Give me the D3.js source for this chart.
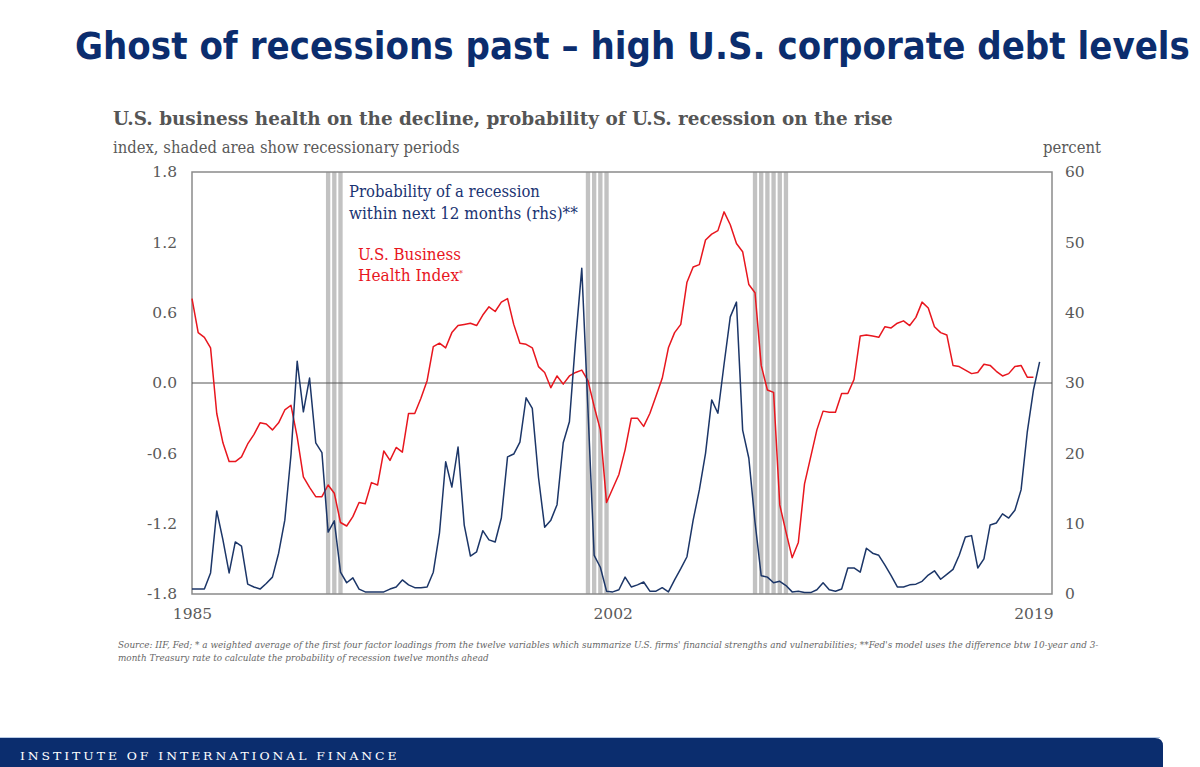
<!DOCTYPE html>
<html>
<head>
<meta charset="utf-8">
<script src="https://cdn.jsdelivr.net/npm/d3@7"></script>
<style>
  body { margin: 0; background: #fff; }
  svg { display: block; }
</style>
</head>
<body>
<svg id="chart"></svg>
<script>
// quarterly categories, 1985Q1 .. 2019Q4
const startYear = 1985, endYear = 2019;
const quarters = [];
for (let y = startYear; y <= endYear; y++)
  for (let q = 1; q <= 4; q++) quarters.push(y + 'Q' + q);

const xTicks = ['1985Q1', '2002Q1', '2019Q1'];
const leftTicks = [-1.8, -1.2, -0.6, 0, 0.6, 1.2, 1.8];
const rightTicks = [0, 10, 20, 30, 40, 50, 60];

// NBER recession quarters (shaded columns)
const recessionQuarters = [
  '1990Q3', '1990Q4', '1991Q1',
  '2001Q1', '2001Q2', '2001Q3', '2001Q4',
  '2007Q4', '2008Q1', '2008Q2', '2008Q3', '2008Q4', '2009Q1'
];

// U.S. Business Health Index (lhs), from 1985Q1
const healthIndex = [
  0.72, 0.43, 0.39, 0.30, -0.26, -0.51, -0.67, -0.67, -0.63, -0.52,
  -0.44, -0.34, -0.35, -0.40, -0.34, -0.23, -0.19, -0.46, -0.80, -0.89,
  -0.97, -0.97, -0.87, -0.94, -1.19, -1.22, -1.14, -1.02, -1.03, -0.85,
  -0.87, -0.58, -0.66, -0.55, -0.59, -0.26, -0.26, -0.13, 0.02, 0.31,
  0.34, 0.30, 0.43, 0.49, 0.50, 0.51, 0.49, 0.58, 0.65, 0.61,
  0.69, 0.72, 0.50, 0.34, 0.33, 0.30, 0.14, 0.09, -0.04, 0.06,
  -0.01, 0.06, 0.09, 0.11, 0.02, -0.20, -0.40, -1.02, -0.90, -0.78,
  -0.57, -0.30, -0.30, -0.37, -0.26, -0.11, 0.04, 0.30, 0.43, 0.50,
  0.86, 0.99, 1.01, 1.22, 1.27, 1.30, 1.46, 1.35, 1.19, 1.12,
  0.84, 0.77, 0.15, -0.06, -0.08, -1.04, -1.27, -1.49, -1.36, -0.86,
  -0.63, -0.40, -0.24, -0.25, -0.25, -0.09, -0.09, 0.03, 0.40, 0.41,
  0.40, 0.39, 0.48, 0.47, 0.51, 0.53, 0.49, 0.56, 0.69, 0.64,
  0.48, 0.43, 0.41, 0.15, 0.14, 0.11, 0.08, 0.09, 0.16, 0.15,
  0.10, 0.06, 0.08, 0.14, 0.15, 0.05, 0.05
];

// probability of a recession within next 12 months, percent (rhs), from 1985Q1
const recessionProb = [
  0.7, 0.7, 0.7, 3.0, 11.8, 7.7, 3.0, 7.4, 6.8, 1.4,
  1.0, 0.7, 1.5, 2.4, 5.8, 10.5, 19.8, 33.1, 25.9, 30.7,
  21.5, 20.1, 8.8, 10.4, 3.1, 1.6, 2.3, 0.7, 0.3, 0.3,
  0.3, 0.3, 0.7, 1.0, 2.0, 1.3, 0.9, 0.9, 1.0, 3.1,
  8.7, 18.8, 15.2, 20.9, 9.8, 5.4, 6.0, 9.0, 7.7, 7.4,
  10.8, 19.5, 19.9, 21.6, 27.9, 26.4, 16.6, 9.5, 10.5, 12.7,
  21.5, 24.5, 36.1, 46.3, 26.2, 5.5, 3.8, 0.4, 0.3, 0.6,
  2.4, 1.0, 1.3, 1.7, 0.4, 0.4, 0.9, 0.3, 2.0, 3.6,
  5.3, 10.5, 14.8, 20.0, 27.6, 25.7, 32.7, 39.4, 41.5, 23.3,
  19.3, 10.2, 2.6, 2.4, 1.6, 1.8, 1.2, 0.3, 0.4, 0.2,
  0.2, 0.6, 1.6, 0.6, 0.4, 0.7, 3.7, 3.7, 3.1, 6.5,
  5.8, 5.5, 4.1, 2.6, 1.0, 1.0, 1.3, 1.4, 1.8, 2.7,
  3.3, 2.1, 2.8, 3.5, 5.5, 8.1, 8.3, 3.7, 5.0, 9.8,
  10.1, 11.4, 10.8, 11.9, 14.8, 23.0, 29.0, 33.0
];

const W = 1200, H = 767;
const plot = {left: 192, right: 1052, top: 172, bottom: 594};
const navy = '#0b2d6e', red = '#e8161e', lineNavy = '#1c3668', grey = '#595959';
const serif = '"DejaVu Serif", serif';

let svg = d3.select('#chart').attr('width', W).attr('height', H);
svg.append('rect').attr('width', W).attr('height', H).attr('fill', '#fff');

// helper: text scaled horizontally to the width measured on the reference
function label(x, y, str, opts) {
  let g = svg.append('g');
  let t = g.append('text').text(str)
    .attr('font-family', opts.font || serif)
    .attr('font-size', opts.size)
    .attr('fill', opts.fill || grey);
  if (opts.weight) t.attr('font-weight', opts.weight);
  if (opts.style) t.attr('font-style', opts.style);
  if (opts.spacing) t.attr('letter-spacing', opts.spacing);
  if (opts.sup) t.append('tspan').text(opts.sup).attr('font-size', opts.size * 0.5).attr('dy', -opts.size * 0.3);
  let w = t.node().getComputedTextLength();
  let s = opts.width ? opts.width / w : 1;
  let x0 = opts.anchor === 'end' ? x - w * s : x;
  g.attr('transform', 'translate(' + x0 + ',' + y + ') scale(' + s + ',1)');
  return t;
}

// headings
label(75, 59, 'Ghost of recessions past \u2013 high U.S. corporate debt levels',
  {font: '"DejaVu Sans", sans-serif', size: 37, weight: 'bold', fill: navy, width: 1115});
label(113, 125, 'U.S. business health on the decline, probability of U.S. recession on the rise',
  {size: 19, weight: 'bold', fill: '#555', width: 780});
label(113, 153, 'index, shaded area show recessionary periods', {size: 16, width: 347});
label(1101, 153, 'percent', {size: 16, anchor: 'end', width: 58});

// scales
let x = d3.scalePoint().domain(quarters).range([plot.left, plot.right]);
let yL = d3.scaleLinear().domain([-1.8, 1.8]).range([plot.bottom, plot.top]);
let yR = d3.scaleLinear().domain([0, 60]).range([plot.bottom, plot.top]);

// recession shading, one column per quarter
let stripeW = x.step() * 0.7;
svg.append('g').selectAll('rect')
  .data(recessionQuarters)
  .enter().append('rect')
    .attr('x', d => x(d) - stripeW / 2)
    .attr('y', plot.top)
    .attr('width', stripeW)
    .attr('height', plot.bottom - plot.top)
    .attr('fill', '#c2c2c2');

// frame + zero line
svg.append('rect')
  .attr('x', plot.left).attr('y', plot.top)
  .attr('width', plot.right - plot.left).attr('height', plot.bottom - plot.top)
  .attr('fill', 'none').attr('stroke', '#8a8a8a').attr('stroke-width', 1.5);
svg.append('line')
  .attr('x1', plot.left).attr('x2', plot.right)
  .attr('y1', yL(0)).attr('y2', yL(0))
  .attr('stroke', '#555').attr('stroke-width', 1);

// axes
function styleAxis(g) {
  g.select('.domain').remove();
  g.selectAll('text').attr('font-family', serif).attr('font-size', 15.5).attr('fill', grey);
}
svg.append('g').attr('transform', 'translate(' + plot.left + ',0)')
  .call(d3.axisLeft(yL).tickValues(leftTicks).tickSize(0).tickPadding(15)
    .tickFormat(d => d.toFixed(1)))
  .call(styleAxis);
svg.append('g').attr('transform', 'translate(' + plot.right + ',0)')
  .call(d3.axisRight(yR).tickValues(rightTicks).tickSize(0).tickPadding(13))
  .call(styleAxis);
svg.append('g').attr('transform', 'translate(0,' + plot.bottom + ')')
  .call(d3.axisBottom(x).tickValues(xTicks).tickSize(0).tickPadding(14)
    .tickFormat(d => d.slice(0, 4)))
  .call(styleAxis);

// series
let line = (scale) => d3.line().x((d, i) => x(quarters[i])).y(d => scale(d));
svg.append('path').datum(healthIndex)
  .attr('d', line(yL))
  .attr('fill', 'none').attr('stroke', red).attr('stroke-width', 1.5)
  .attr('stroke-linejoin', 'round');
svg.append('path').datum(recessionProb)
  .attr('d', line(yR))
  .attr('fill', 'none').attr('stroke', lineNavy).attr('stroke-width', 1.5)
  .attr('stroke-linejoin', 'round');

// in-plot labels
label(349, 197, 'Probability of a recession', {size: 16.5, fill: '#1a3372', width: 191});
label(349, 219, 'within next 12 months (rhs)**', {size: 16.5, fill: '#1a3372', width: 229});
label(358, 260, 'U.S. Business', {size: 16.5, fill: red, width: 103});
label(358, 281, 'Health Index', {size: 16.5, fill: red, width: 105, sup: '*'});

// footnote
label(118, 648, "Source: IIF, Fed; * a weighted average of the first four factor loadings from the twelve variables which summarize U.S. firms' financial strengths and vulnerabilities; **Fed's model uses the difference btw 10-year and 3-",
  {size: 10, style: 'italic', fill: '#666', width: 982});
label(118, 661, 'month Treasury rate to calculate the probability of recession twelve months ahead',
  {size: 10, style: 'italic', fill: '#666', width: 371});

// footer band
svg.append('line').attr('x1', 0).attr('x2', 1160).attr('y1', 737.5).attr('y2', 737.5)
  .attr('stroke', '#b8cbe6').attr('stroke-width', 1);
svg.append('path')
  .attr('d', 'M0,738 H1155 Q1163,738 1163,746 V767 H0 Z')
  .attr('fill', navy);
label(20, 760, 'INSTITUTE OF INTERNATIONAL FINANCE',
  {size: 10.5, fill: '#fff', spacing: 2.5, width: 380});
</script>
</body>
</html>
